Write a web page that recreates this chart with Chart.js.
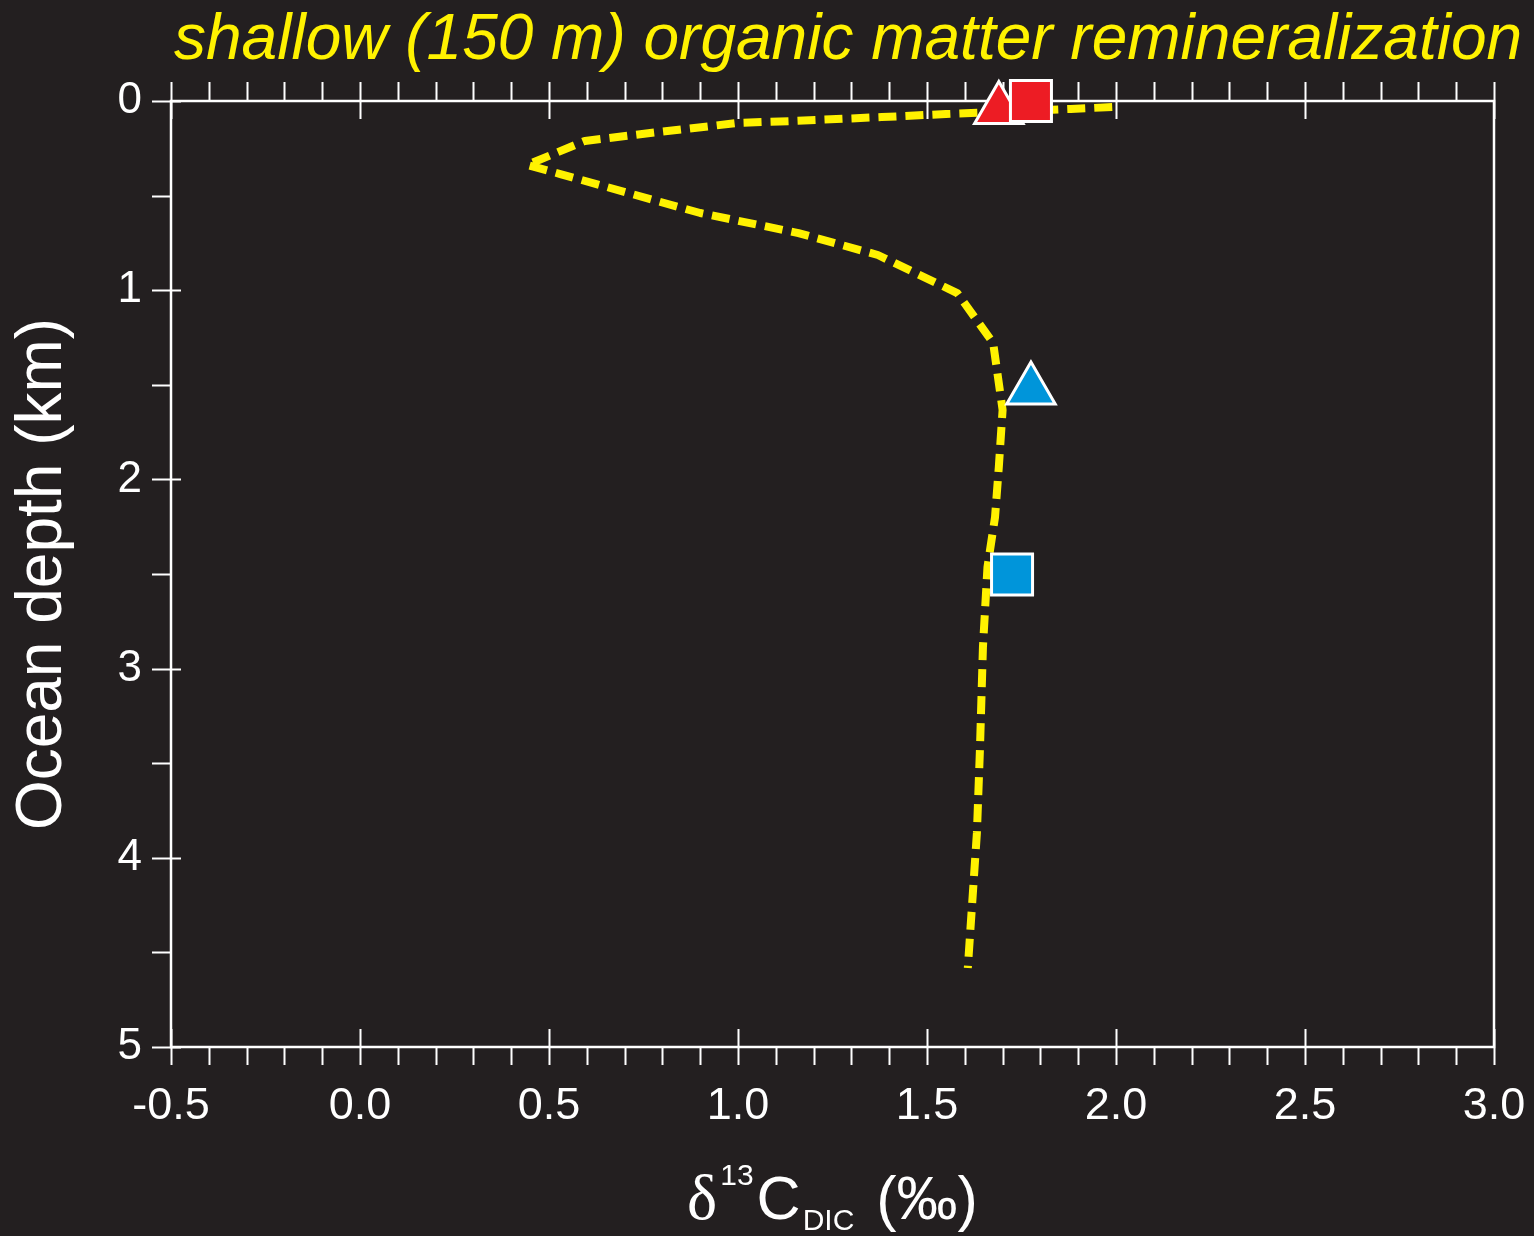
<!DOCTYPE html>
<html>
<head>
<meta charset="utf-8">
<script src="https://cdn.jsdelivr.net/npm/chart.js@4.4.1/dist/chart.umd.min.js"></script>
<style>
    html, body { margin: 0; padding: 0; background: #231f20; }
    #wrap { width: 1534px; height: 1236px; }
</style>
</head>
<body>
<div id="wrap"><canvas id="chart" width="1534" height="1236"></canvas></div>
<script>
// model profile (dashed line)
const profileDelta = [1.99, 1.88, 1.55, 1.38, 1.14, 1.00, 0.79, 0.595, 0.442, 0.53, 0.90, 1.16, 1.37, 1.58, 1.675, 1.70, 1.69, 1.68, 1.66, 1.648, 1.64, 1.632, 1.608];
const profileDepth = [0.032, 0.042, 0.069, 0.085, 0.106, 0.116, 0.164, 0.211, 0.338, 0.386, 0.592, 0.698, 0.814, 1.015, 1.279, 1.633, 1.934, 2.199, 2.463, 2.886, 3.43, 3.869, 4.582];

// surface (red) and deep (blue) core-top markers
const redDelta = [1.69, 1.775];
const redDepth = [0.045, 0.0];
const blueDelta = [1.775, 1.725];
const blueDepth = [1.527, 2.503];
const markerShapes = ['triangle', 'rect'];
const markerRadius = [28, 29];

// axes
const xMin = -0.5, xMax = 3.0, xMajor = 0.5, xMinor = 0.1;
const yMin = 0, yMax = 5, yMajor = 1, yMinor = 0.5;

const titleText = 'shallow (150 m) organic matter remineralization';
const yTitle = 'Ocean depth (km)';

const BG = '#231f20';
const YELLOW = '#fff200';
const RED = '#ed1c24';
const BLUE = '#0095da';
const WHITE = '#ffffff';
const FONT = '"Liberation Sans", Arial, Helvetica, sans-serif';

const toPoints = (xs, ys) => xs.map((x, i) => ({ x: x, y: ys[i] }));

const frameTicks = {
    id: 'frameTicks',
    beforeDatasetsDraw(chart) {
        const { ctx, chartArea: a, scales: { x, y } } = chart;
        ctx.save();
        ctx.strokeStyle = WHITE;
        ctx.lineWidth = 2.5;
        ctx.strokeRect(a.left, a.top, a.right - a.left, a.bottom - a.top);
        ctx.lineWidth = 2;
        ctx.beginPath();
        const nx = Math.round((xMax - xMin) / xMinor);
        for (let i = 0; i <= nx; i++) {
            const px = Math.round(x.getPixelForValue(xMin + i * xMinor)) + 0.5;
            const major = i % Math.round(xMajor / xMinor) === 0;
            const inner = major ? 18 : 0;
            ctx.moveTo(px, a.top - 19); ctx.lineTo(px, a.top + inner);
            ctx.moveTo(px, a.bottom + 18); ctx.lineTo(px, a.bottom - inner);
        }
        const ny = Math.round((yMax - yMin) / yMinor);
        for (let j = 0; j <= ny; j++) {
            const py = Math.round(y.getPixelForValue(yMin + j * yMinor)) + 0.5;
            const major = j % Math.round(yMajor / yMinor) === 0;
            ctx.moveTo(a.left - 19, py); ctx.lineTo(a.left + (major ? 10 : 0), py);
        }
        ctx.stroke();
        ctx.restore();
    },
    afterDraw(chart) {
        const { ctx, chartArea: a } = chart;
        ctx.save();
        // title
        ctx.fillStyle = YELLOW;
        ctx.font = 'italic 64px ' + FONT;
        ctx.textBaseline = 'alphabetic';
        ctx.textAlign = 'left';
        ctx.fillText(titleText, 174, 59);

        // x axis title: δ13C_DIC (‰)
        ctx.fillStyle = WHITE;
        const parts = [
            { t: '\u03b4', font: '64px "Liberation Serif", "DejaVu Serif", serif', dy: 0, gap: 3 },
            { t: '13', font: '30px ' + FONT, dy: -34, gap: 3 },
            { t: 'C', font: '61px ' + FONT, dy: 0, gap: 2 },
            { t: 'DIC', font: '30px ' + FONT, dy: 11, gap: 22 },
            { t: '(\u2030)', font: '61px ' + FONT, dy: 0, gap: 0 },
        ];
        let total = 0;
        parts.forEach(p => { ctx.font = p.font; p.w = ctx.measureText(p.t).width; total += p.w + p.gap; });
        let cx = (a.left + a.right) / 2 - total / 2;
        const base = 1219;
        parts.forEach(p => {
            ctx.font = p.font;
            ctx.fillText(p.t, cx, base + p.dy);
            cx += p.w + p.gap;
        });
        ctx.restore();
    }
};

new Chart(document.getElementById('chart'), {
    type: 'scatter',
    data: {
        datasets: [
            {
                label: 'profile',
                data: toPoints(profileDelta, profileDepth),
                showLine: true,
                borderColor: YELLOW,
                borderWidth: 8,
                borderDash: [18, 9],
                borderJoinStyle: 'round',
                pointRadius: 0,
                pointHoverRadius: 0,
                order: 10,
                clip: false
            },
            {
                label: 'surface',
                data: toPoints(redDelta, redDepth),
                pointStyle: markerShapes,
                pointRadius: markerRadius,
                backgroundColor: RED,
                borderColor: WHITE,
                borderWidth: 3,
                order: 2,
                clip: false
            },
            {
                label: 'deep',
                data: toPoints(blueDelta, blueDepth),
                pointStyle: markerShapes,
                pointRadius: markerRadius,
                backgroundColor: BLUE,
                borderColor: WHITE,
                borderWidth: 3,
                order: 1,
                clip: false
            }
        ]
    },
    options: {
        responsive: false,
        animation: false,
        layout: { padding: { top: 101, right: 40, left: 0, bottom: 0 } },
        plugins: {
            legend: { display: false },
            tooltip: { enabled: false },
            title: { display: false }
        },
        scales: {
            x: {
                type: 'linear',
                min: xMin,
                max: xMax,
                grid: { display: false, drawTicks: false },
                border: { display: false },
                ticks: {
                    stepSize: xMajor,
                    color: WHITE,
                    padding: 33,
                    font: { family: FONT, size: 45 },
                    callback: v => v.toFixed(1)
                },
                afterFit: s => { s.height = 189; s.paddingLeft = 0; s.paddingRight = 0; }
            },
            y: {
                type: 'linear',
                reverse: true,
                min: yMin,
                max: yMax,
                grid: { display: false, drawTicks: false },
                border: { display: false },
                ticks: {
                    stepSize: yMajor,
                    color: WHITE,
                    padding: 29,
                    font: { family: FONT, size: 44 },
                    callback: v => String(v)
                },
                title: {
                    display: true,
                    text: yTitle,
                    color: WHITE,
                    padding: { top: 5, bottom: 0 },
                    font: { family: FONT, size: 64 }
                },
                afterFit: s => { s.width = 171; s.paddingTop = 0; s.paddingBottom = 0; }
            }
        }
    },
    plugins: [frameTicks]
});
</script>
</body>
</html>
